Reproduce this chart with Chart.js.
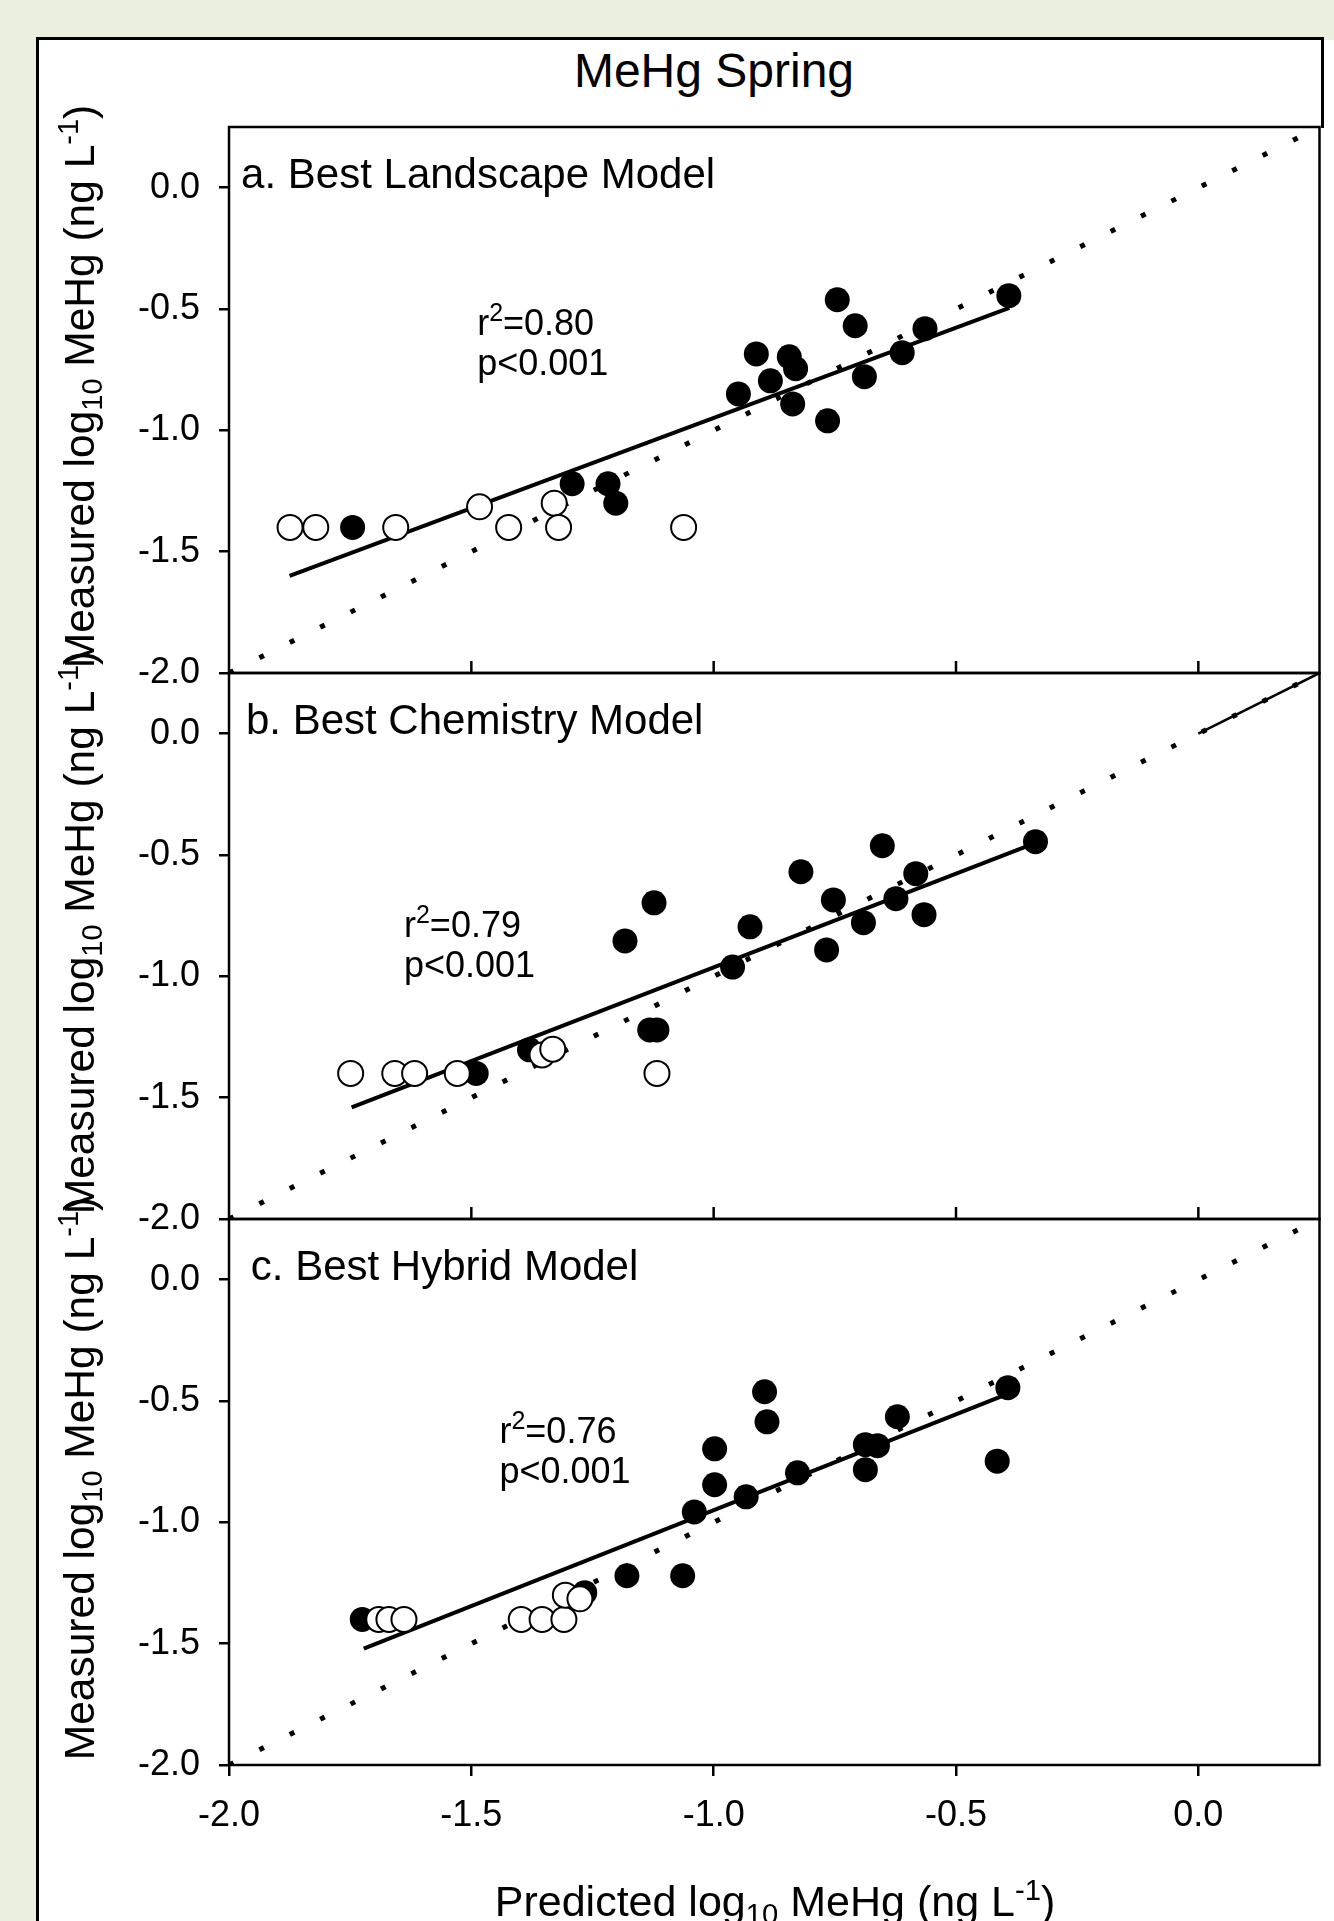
<!DOCTYPE html>
<html>
<head>
<meta charset="utf-8">
<title>MeHg Spring</title>
<script src="https://cdn.jsdelivr.net/npm/chart.js@4.4.1/dist/chart.umd.min.js"></script>
<style>
  html, body { margin: 0; padding: 0; }
  body {
    width: 1334px; height: 1921px; overflow: hidden; position: relative;
    background: #ebefdf;
    font-family: "Liberation Sans", Arial, sans-serif; color: #000;
  }
  .frame {
    position: absolute; left: 36px; top: 37px; width: 1285px; height: 1884px;
    background: #fff; border-left: 3px solid #000; border-top: 3px solid #000;
  }
  .frame-right { position: absolute; left: 1321px; top: 37px; width: 3px; height: 91px; background: #000; }
  .frame-ext { position: absolute; left: 1324px; top: 40px; width: 10px; height: 1881px; background: #fff; }
  .title {
    position: absolute; left: 514px; width: 400px; top: 47px;
    font-size: 48px; line-height: 1; text-align: center; white-space: nowrap;
  }
  canvas { position: absolute; left: 0; }
  .ytitle {
    position: absolute; width: 640px; height: 43px; left: -241px;
    font-size: 42.5px; line-height: 43px; text-align: center; white-space: nowrap;
    transform: rotate(-90deg);
  }
  .xtitle {
    position: absolute; left: 375px; width: 800px; top: 1880px;
    font-size: 43px; line-height: 43px; text-align: center; white-space: nowrap;
  }
  sub, sup { font-size: 0.68em; line-height: 0; position: relative; vertical-align: baseline; }
  sub { top: 0.28em; }
  sup { top: -0.55em; }
</style>
</head>
<body>
<div class="frame"></div>
<div class="frame-right"></div>
<div class="frame-ext"></div>
<div class="title">MeHg Spring</div>

<canvas id="panelA" width="1334" height="586" style="top:107px"></canvas>
<canvas id="panelB" width="1334" height="586" style="top:653px"></canvas>
<canvas id="panelC" width="1334" height="722" style="top:1199px"></canvas>

<div class="ytitle" style="top:365px">Measured log<sub>10</sub> MeHg (ng L<sup>-1</sup>)</div>
<div class="ytitle" style="top:911px">Measured log<sub>10</sub> MeHg (ng L<sup>-1</sup>)</div>
<div class="ytitle" style="top:1457px">Measured log<sub>10</sub> MeHg (ng L<sup>-1</sup>)</div>
<div class="xtitle">Predicted log<sub>10</sub> MeHg (ng L<sup>-1</sup>)</div>

<script>
const FONT = "'Liberation Sans', Arial, sans-serif";

// axes
const axisMin = -2.0;
const axisMax = 0.25;
const xTicks = [-2.0, -1.5, -1.0, -0.5, 0.0];
const yTicks = [-2.0, -1.5, -1.0, -0.5, 0.0];
const oneToOne = [-2.0, 0.25];

// a. Best Landscape Model
const landFilledX = [-1.745, -1.292, -1.218, -1.202, -0.949, -0.912, -0.883, -0.844, -0.831, -0.837, -0.745, -0.708, -0.765, -0.689, -0.611, -0.564, -0.391];
const landFilledY = [-1.40, -1.22, -1.22, -1.30, -0.85, -0.685, -0.796, -0.697, -0.746, -0.891, -0.462, -0.569, -0.961, -0.779, -0.680, -0.581, -0.445];
const landOpenX = [-1.874, -1.821, -1.656, -1.483, -1.423, -1.329, -1.320, -1.062];
const landOpenY = [-1.40, -1.40, -1.40, -1.315, -1.40, -1.30, -1.40, -1.40];
const landFitX = [-1.875, -0.39];
const landFitY = [-1.60, -0.495];

// b. Best Chemistry Model
const chemFilledX = [-1.490, -1.380, -1.132, -1.117, -1.183, -1.123, -0.961, -0.925, -0.820, -0.767, -0.753, -0.691, -0.652, -0.624, -0.583, -0.566, -0.336];
const chemFilledY = [-1.40, -1.303, -1.221, -1.221, -0.854, -0.697, -0.962, -0.796, -0.569, -0.891, -0.685, -0.779, -0.462, -0.680, -0.577, -0.746, -0.445];
const chemOpenX = [-1.749, -1.658, -1.617, -1.529, -1.354, -1.332, -1.117];
const chemOpenY = [-1.40, -1.40, -1.40, -1.40, -1.324, -1.30, -1.40];
const chemFitX = [-1.747, -0.345];
const chemFitY = [-1.54, -0.457];

// c. Best Hybrid Model
const hybFilledX = [-1.725, -1.266, -1.179, -1.064, -1.040, -0.998, -0.998, -0.933, -0.895, -0.890, -0.827, -0.687, -0.662, -0.687, -0.621, -0.415, -0.393];
const hybFilledY = [-1.40, -1.29, -1.22, -1.22, -0.957, -0.845, -0.697, -0.895, -0.462, -0.586, -0.796, -0.680, -0.684, -0.783, -0.565, -0.748, -0.445];
const hybOpenX = [-1.691, -1.670, -1.639, -1.397, -1.354, -1.309, -1.306, -1.276];
const hybOpenY = [-1.40, -1.40, -1.40, -1.40, -1.40, -1.40, -1.30, -1.315];
const hybFitX = [-1.722, -0.405];
const hybFitY = [-1.52, -0.48];

const pts = (xs, ys) => xs.map((x, i) => ({ x: x, y: ys[i] }));

function buildDatasets(openX, openY, filledX, filledY, fitX, fitY, solidTop) {
  const sets = [
    { data: pts(openX, openY), pointRadius: 12.5, pointBackgroundColor: '#fff',
      pointBorderColor: '#000', pointBorderWidth: 2, showLine: false },
    { data: pts(filledX, filledY), pointRadius: 12.5, pointBackgroundColor: '#000',
      pointBorderColor: '#000', pointBorderWidth: 0, showLine: false },
    { data: pts(fitX, fitY), showLine: true, pointRadius: 0, borderColor: '#000', borderWidth: 4 },
    { data: pts(oneToOne, oneToOne), showLine: true, pointRadius: 0, borderColor: '#000',
      borderWidth: 5, borderDash: [5, 29], borderCapStyle: 'butt' }
  ];
  if (solidTop) {
    sets.push({ data: pts(solidTop, solidTop), showLine: true, pointRadius: 0,
      borderColor: '#000', borderWidth: 2.5 });
  }
  return sets;
}

function panelText(panel) {
  return {
    id: 'panelText',
    afterDatasetsDraw(chart) {
      const { ctx, chartArea: a, scales: { x, y } } = chart;
      ctx.save();
      ctx.strokeStyle = '#000';
      ctx.lineWidth = 2.5;
      ctx.strokeRect(a.left, a.top, a.right - a.left, a.bottom - a.top);
      if (!panel.bottom) {
        xTicks.forEach(v => {
          const px = x.getPixelForValue(v);
          if (px > a.left + 3) {
            ctx.beginPath();
            ctx.moveTo(px, a.bottom);
            ctx.lineTo(px, a.bottom - 12);
            ctx.stroke();
          }
        });
      }
      ctx.fillStyle = '#000';
      ctx.textAlign = 'left';
      ctx.textBaseline = 'alphabetic';
      ctx.font = '42px ' + FONT;
      ctx.fillText(panel.label, x.getPixelForValue(panel.labelAt[0]), y.getPixelForValue(panel.labelAt[1]));

      const sx = x.getPixelForValue(panel.statAt[0]);
      const sy = y.getPixelForValue(panel.statAt[1]);
      ctx.font = '36px ' + FONT;
      ctx.fillText('r', sx, sy);
      let w = ctx.measureText('r').width;
      ctx.font = '25px ' + FONT;
      ctx.fillText('2', sx + w, sy - 14);
      w += ctx.measureText('2').width;
      ctx.font = '36px ' + FONT;
      ctx.fillText('=' + panel.r2, sx + w, sy);
      ctx.fillText('p' + panel.p, sx, sy + 40);
      ctx.restore();
    }
  };
}

function makePanel(id, panel, datasets) {
  const tickFont = { family: FONT, size: 36 };
  new Chart(document.getElementById(id), {
    type: 'scatter',
    data: { datasets: datasets },
    options: {
      responsive: false,
      animation: false,
      events: [],
      layout: { padding: { top: 20, right: 12, left: 0, bottom: 0 } },
      plugins: { legend: { display: false }, tooltip: { enabled: false } },
      scales: {
        x: {
          type: 'linear', min: axisMin, max: axisMax,
          afterBuildTicks: s => { s.ticks = xTicks.map(v => ({ value: v })); },
          afterFit: s => {
            s.height = panel.bottom ? 156 : 20;
            s.paddingLeft = 0; s.paddingRight = 0;
          },
          border: { display: false },
          grid: { display: panel.bottom, drawOnChartArea: false, drawTicks: true,
                  tickLength: 11, color: '#000', lineWidth: 2.5 },
          ticks: { display: panel.bottom, padding: 18, font: tickFont, color: '#000',
                   autoSkip: false, maxRotation: 0, callback: v => Number(v).toFixed(1) }
        },
        y: {
          type: 'linear', min: axisMin, max: axisMax,
          afterBuildTicks: s => { s.ticks = yTicks.map(v => ({ value: v })); },
          afterFit: s => {
            s.width = 229;
            s.paddingTop = 0; s.paddingBottom = 0;
          },
          border: { display: false },
          grid: { drawOnChartArea: false, drawTicks: true, tickLength: 10,
                  color: '#000', lineWidth: 2.5 },
          ticks: { padding: 19, font: tickFont, color: '#000', autoSkip: false,
                   callback: v => Number(v).toFixed(1) }
        }
      }
    },
    plugins: [panelText(panel)]
  });
}

makePanel('panelA',
  { label: 'a. Best Landscape Model', labelAt: [-1.975, 0.0], statAt: [-1.488, -0.606],
    r2: '0.80', p: '<0.001', bottom: false },
  buildDatasets(landOpenX, landOpenY, landFilledX, landFilledY, landFitX, landFitY, null));

makePanel('panelB',
  { label: 'b. Best Chemistry Model', labelAt: [-1.965, 0.0], statAt: [-1.639, -0.837],
    r2: '0.79', p: '<0.001', bottom: false },
  buildDatasets(chemOpenX, chemOpenY, chemFilledX, chemFilledY, chemFitX, chemFitY, [0.0, 0.25]));

makePanel('panelC',
  { label: 'c. Best Hybrid Model', labelAt: [-1.955, 0.0], statAt: [-1.442, -0.672],
    r2: '0.76', p: '<0.001', bottom: true },
  buildDatasets(hybOpenX, hybOpenY, hybFilledX, hybFilledY, hybFitX, hybFitY, null));
</script>
</body>
</html>
